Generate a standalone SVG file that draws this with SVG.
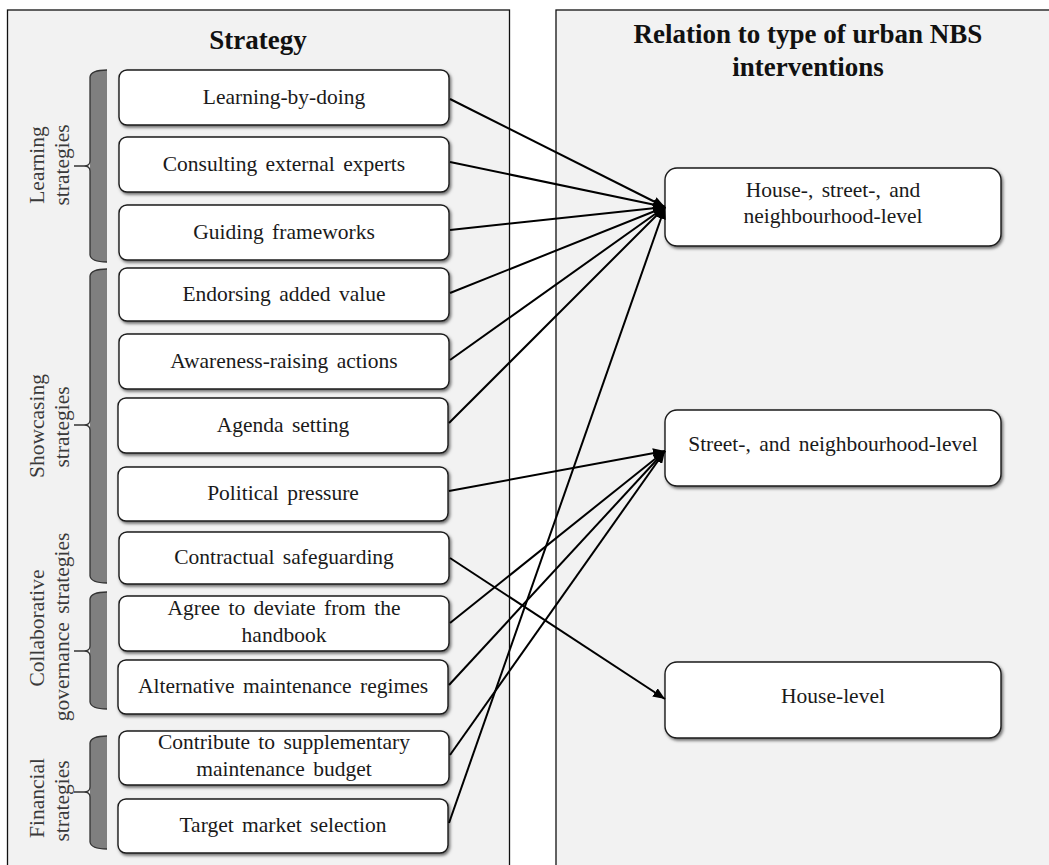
<svg xmlns="http://www.w3.org/2000/svg" width="1049" height="865" viewBox="0 0 1049 865">
<defs>
<style>
.panel{fill:#f2f2f2;stroke:#111;stroke-width:1.3}
.box{fill:#fff;stroke:#1a1a1a;stroke-width:1.4;filter:url(#sh)}
.t{font-family:"Liberation Serif","Times New Roman",serif;font-size:21.5px;fill:#1a1a1a;text-anchor:middle;word-spacing:3px}
.title{font-family:"Liberation Serif","Times New Roman",serif;font-size:27px;font-weight:bold;fill:#111;text-anchor:middle}
.side{font-family:"Liberation Serif","Times New Roman",serif;font-size:21.5px;fill:#3a3a3a;text-anchor:middle;word-spacing:3px}
.bar{fill:#7f7f7f;stroke:none}
.brace{fill:none;stroke:#333;stroke-width:1.3}
.conn{fill:none;stroke:#000;stroke-width:2}
</style>
<filter id="sh" x="-5%" y="-10%" width="115%" height="130%">
<feDropShadow dx="1.5" dy="2" stdDeviation="1.4" flood-color="#000" flood-opacity="0.55"/>
</filter>
<marker id="arr" viewBox="0 0 12 10" refX="12" refY="5" markerWidth="12" markerHeight="10" markerUnits="userSpaceOnUse" orient="auto">
<path d="M0,0 L12,5 L0,10 Z" fill="#000"/>
</marker>
</defs>
<rect width="1049" height="865" fill="#fff"/>
<g id="panels">
<rect class="panel" x="7.5" y="10" width="502" height="880"/>
<rect class="panel" x="556" y="10" width="520" height="880"/>
<text class="title" x="258" y="49">Strategy</text>
<text class="title" x="808" y="43">Relation to type of urban NBS</text>
<text class="title" x="808" y="76">interventions</text>
</g>
<g id="group-learning">
<path class="bar" d="M107,70 Q91,70 90,77 L90,255 Q91,262 107,262 Z"/>
<path class="brace" d="M107,70 Q91,70 90,77 L90,161 Q90,166 84,166 L74,166 M84,166 Q90,166 90,171 L90,255 Q91,262 107,262"/>
<text class="side" transform="translate(43.5,165) rotate(-90)">Learning</text>
<text class="side" transform="translate(68.5,165) rotate(-90)">strategies</text>
</g>
<g id="group-showcasing">
<path class="bar" d="M107,269 Q91,269 90,276 L90,576 Q91,583 107,583 Z"/>
<path class="brace" d="M107,269 Q91,269 90,276 L90,420 Q90,425 84,425 L74,425 M84,425 Q90,425 90,430 L90,576 Q91,583 107,583"/>
<text class="side" transform="translate(43.5,426) rotate(-90)">Showcasing</text>
<text class="side" transform="translate(68.5,427) rotate(-90)">strategies</text>
</g>
<g id="group-collaborative">
<path class="bar" d="M107,592 Q91,592 90,599 L90,702 Q91,709 107,709 Z"/>
<path class="brace" d="M107,592 Q91,592 90,599 L90,646 Q90,651 84,651 L74,651 M84,651 Q90,651 90,656 L90,702 Q91,709 107,709"/>
<text class="side" transform="translate(43.5,628) rotate(-90)">Collaborative</text>
<text class="side" transform="translate(69,627) rotate(-90)">governance strategies</text>
</g>
<g id="group-financial">
<path class="bar" d="M107,736 Q91,736 90,743 L90,842 Q91,849 107,849 Z"/>
<path class="brace" d="M107,736 Q91,736 90,743 L90,787 Q90,792 84,792 L74,792 M84,792 Q90,792 90,797 L90,842 Q91,849 107,849"/>
<text class="side" transform="translate(43.5,798) rotate(-90)">Financial</text>
<text class="side" transform="translate(68.5,801) rotate(-90)">strategies</text>
</g>
<g id="s1"><rect class="box" x="119" y="70" width="330" height="55" rx="8"/><text class="t" x="284" y="104">Learning-by-doing</text></g>
<g id="s2"><rect class="box" x="119" y="137" width="330" height="55" rx="8"/><text class="t" x="284" y="171">Consulting external experts</text></g>
<g id="s3"><rect class="box" x="119" y="205" width="330" height="55" rx="8"/><text class="t" x="284" y="239">Guiding frameworks</text></g>
<g id="s4"><rect class="box" x="119" y="268" width="330" height="53" rx="8"/><text class="t" x="284" y="301">Endorsing added value</text></g>
<g id="s5"><rect class="box" x="119" y="334" width="330" height="55" rx="8"/><text class="t" x="284" y="368">Awareness-raising actions</text></g>
<g id="s6"><rect class="box" x="118" y="398" width="330" height="55" rx="8"/><text class="t" x="283" y="432">Agenda setting</text></g>
<g id="s7"><rect class="box" x="118" y="467" width="330" height="54" rx="8"/><text class="t" x="283" y="500">Political pressure</text></g>
<g id="s8"><rect class="box" x="119" y="532" width="330" height="52" rx="8"/><text class="t" x="284" y="564">Contractual safeguarding</text></g>
<g id="s9"><rect class="box" x="119" y="596" width="330" height="55" rx="8"/><text class="t" x="284" y="615">Agree to deviate from the</text><text class="t" x="284" y="642">handbook</text></g>
<g id="s10"><rect class="box" x="118" y="660" width="330" height="54" rx="8"/><text class="t" x="283" y="693">Alternative maintenance regimes</text></g>
<g id="s11"><rect class="box" x="119" y="731" width="330" height="54" rx="8"/><text class="t" x="284" y="749">Contribute to supplementary</text><text class="t" x="284" y="776">maintenance budget</text></g>
<g id="s12"><rect class="box" x="118" y="799" width="330" height="54" rx="8"/><text class="t" x="283" y="832">Target market selection</text></g>
<g id="r1"><rect class="box" x="665" y="168" width="336" height="78" rx="12"/><text class="t" x="833" y="197">House-, street-, and</text><text class="t" x="833" y="223">neighbourhood-level</text></g>
<g id="r2"><rect class="box" x="665" y="410" width="336" height="76" rx="12"/><text class="t" x="833" y="451">Street-, and neighbourhood-level</text></g>
<g id="r3"><rect class="box" x="665" y="662" width="336" height="76" rx="12"/><text class="t" x="833" y="703">House-level</text></g>
<g id="connectors" class="conn" marker-end="url(#arr)">
<line class="conn" x1="450" y1="99" x2="665" y2="207" marker-end="url(#arr)"/>
<line class="conn" x1="450" y1="162" x2="665" y2="207" marker-end="url(#arr)"/>
<line class="conn" x1="450" y1="230" x2="665" y2="207" marker-end="url(#arr)"/>
<line class="conn" x1="450" y1="293" x2="665" y2="207" marker-end="url(#arr)"/>
<line class="conn" x1="450" y1="360" x2="665" y2="207" marker-end="url(#arr)"/>
<line class="conn" x1="449" y1="423" x2="665" y2="207" marker-end="url(#arr)"/>
<line class="conn" x1="449" y1="491" x2="665" y2="451" marker-end="url(#arr)"/>
<line class="conn" x1="450" y1="558" x2="665" y2="699" marker-end="url(#arr)"/>
<line class="conn" x1="450" y1="623" x2="665" y2="451" marker-end="url(#arr)"/>
<line class="conn" x1="449" y1="685" x2="665" y2="451" marker-end="url(#arr)"/>
<line class="conn" x1="450" y1="755" x2="665" y2="451" marker-end="url(#arr)"/>
<line class="conn" x1="449" y1="823" x2="665" y2="207" marker-end="url(#arr)"/>
</g>
</svg>
